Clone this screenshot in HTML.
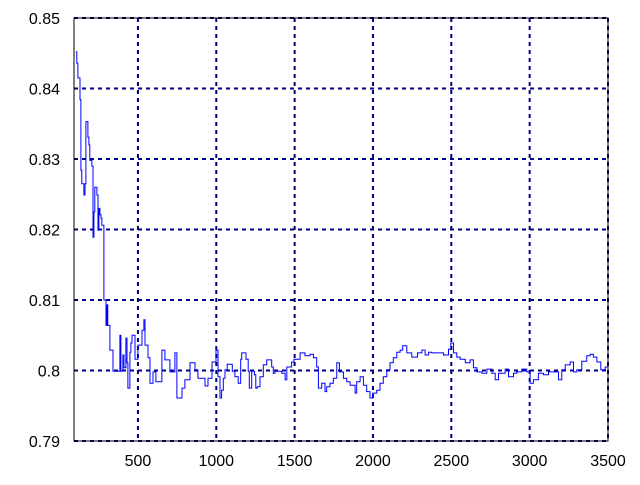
<!DOCTYPE html>
<html><head><meta charset="utf-8"><style>
body{margin:0;background:#fff}
svg text{font-family:"Liberation Sans",sans-serif;font-size:16px;fill:#000}
</style></head><body>
<svg id="chart" width="640" height="480" xmlns="http://www.w3.org/2000/svg">
<g id="grid"></g>
<g id="ticks"></g>
<rect x="74" y="18" width="534" height="423" fill="none" stroke="#000" stroke-width="1"/>
<path id="series" fill="none" stroke="#0000ff" stroke-width="1"/>
</svg>
<script>
const xTicks=[500,1000,1500,2000,2500,3000,3500];
const yTicks=[0.79,0.8,0.81,0.82,0.83,0.84,0.85];
const yTickLabels=["0.79","0.8","0.81","0.82","0.83","0.84","0.85"];
const xVals=[104,110,117,130,136,142,155,162,168,181,187,193,206,213,219,225,238,245,251,257,264,270,283,296,302,308,321,341,385,391,404,411,423,430,436,449,455,462,481,500,526,538,545,564,577,596,615,653,672,704,736,749,781,800,832,864,883,928,947,973,998,1011,1024,1034,1045,1056,1070,1102,1119,1140,1156,1162,1190,1204,1211,1226,1243,1252,1262,1279,1300,1322,1354,1364,1375,1418,1439,1450,1481,1496,1535,1566,1598,1620,1641,1652,1673,1694,1705,1726,1747,1769,1786,1811,1833,1854,1886,1896,1918,1939,1960,1981,1998,2024,2045,2066,2088,2109,2130,2152,2173,2190,2216,2248,2284,2312,2333,2355,2376,2408,2450,2482,2497,2514,2535,2556,2589,2620,2641,2663,2695,2727,2759,2780,2801,2844,2865,2897,2918,2950,2982,3003,3024,3056,3088,3120,3152,3184,3205,3227,3259,3280,3301,3333,3365,3386,3407,3429,3454,3482,3500];
const yVals=[0.8452,0.8436,0.8415,0.8384,0.8284,0.8265,0.8249,0.8265,0.8353,0.8331,0.8320,0.8298,0.8290,0.8189,0.8225,0.8260,0.8249,0.8199,0.8230,0.8221,0.8216,0.8206,0.8100,0.8064,0.8093,0.8064,0.8029,0.7999,0.8050,0.7999,0.8022,0.8004,0.8046,0.8011,0.7975,0.8026,0.8039,0.8050,0.8016,0.8036,0.8057,0.8072,0.8036,0.8018,0.7982,0.7998,0.7984,0.8029,0.8015,0.7998,0.8025,0.7961,0.7975,0.7987,0.8011,0.8001,0.7989,0.7978,0.7989,0.8012,0.8029,0.7991,0.7961,0.7972,0.7989,0.8001,0.8009,0.7999,0.7991,0.7982,0.8016,0.8025,0.8016,0.7999,0.7975,0.7999,0.7994,0.7975,0.7977,0.7991,0.8008,0.8015,0.8005,0.7996,0.7999,0.7996,0.7987,0.8005,0.8012,0.8016,0.8025,0.8021,0.8023,0.8018,0.8005,0.7975,0.7982,0.7970,0.7977,0.7982,0.7989,0.8011,0.7998,0.7989,0.7984,0.7979,0.7968,0.7984,0.7991,0.7979,0.7970,0.7961,0.7968,0.7972,0.7982,0.7991,0.8001,0.8011,0.8018,0.8026,0.8029,0.8035,0.8025,0.8019,0.8025,0.8029,0.8022,0.8026,0.8025,0.8025,0.8022,0.8030,0.8039,0.8025,0.8019,0.8016,0.8011,0.8015,0.8004,0.7998,0.7996,0.8002,0.7996,0.7987,0.7996,0.8002,0.7991,0.7996,0.7998,0.8002,0.7998,0.7982,0.7987,0.7996,0.7994,0.7998,0.7998,0.7987,0.8001,0.8008,0.8012,0.7998,0.8001,0.8013,0.8021,0.8023,0.8019,0.8012,0.8001,0.8005,0.8005];
const X0=74,X1=608,Y0=441,Y1=18,xMin=92,xMax=3500,yMin=0.79,yMax=0.85;
const sx=v=>X0+(v-xMin)/(xMax-xMin)*(X1-X0);
const sy=v=>Y0-(v-yMin)/(yMax-yMin)*(Y0-Y1);
const NS="http://www.w3.org/2000/svg";
const grid=document.getElementById('grid'),ticks=document.getElementById('ticks');
function mk(tag,attrs,parent){const e=document.createElementNS(NS,tag);for(const k in attrs)e.setAttribute(k,attrs[k]);parent.appendChild(e);return e;}
xTicks.forEach((t,i)=>{
  const x=sx(t);
  const g=mk('line',{x1:x,x2:x,y1:Y1,y2:Y0,stroke:'#000080','stroke-width':2,'stroke-dasharray':'4,4'},grid);
  
  
  const l=mk('text',{x:x,y:Y0+25,'text-anchor':'middle'},ticks);
  l.textContent=String(t);
  
  
});
yTicks.forEach((t,i)=>{
  const y=sy(t);
  const g=mk('line',{x1:X0,x2:X1,y1:y,y2:y,stroke:'#000080','stroke-width':2,'stroke-dasharray':'4,4'},grid);
  
  
  const l=mk('text',{x:X0-14,y:y+6,'text-anchor':'end'},ticks);
  l.textContent=yTickLabels[i];
  
  
});
let d='M'+sx(xVals[0]).toFixed(1)+','+sy(yVals[0]).toFixed(1);
for(let i=1;i<xVals.length;i++){
  d+=' H'+sx(xVals[i]).toFixed(1)+' V'+sy(yVals[i]).toFixed(1);
}
document.getElementById('series').setAttribute('d',d);
</script>
</body></html>
